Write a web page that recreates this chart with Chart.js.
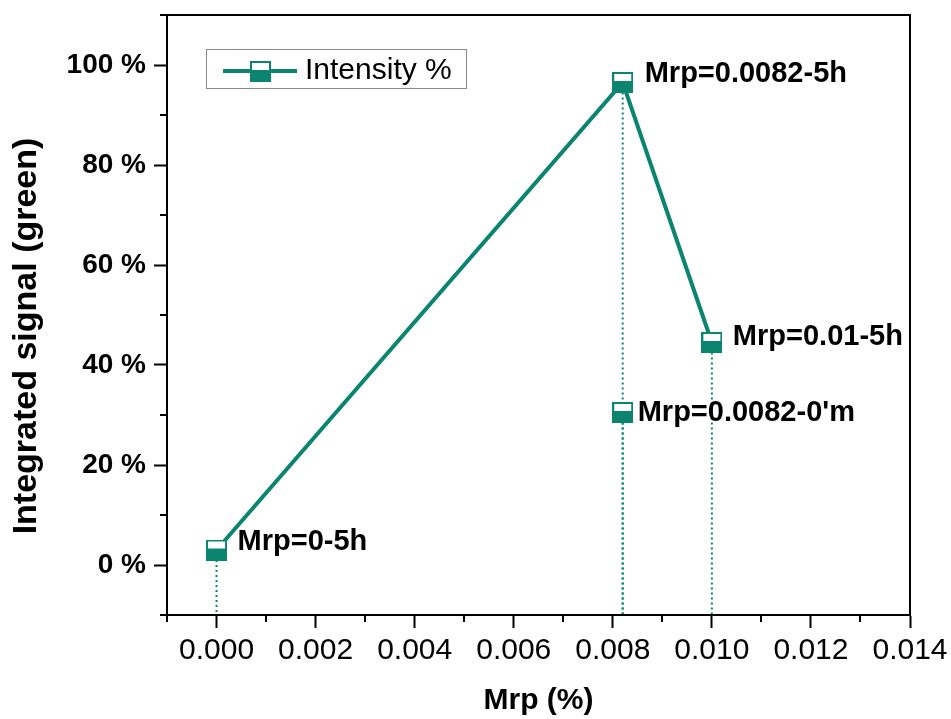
<!DOCTYPE html>
<html>
<head>
<meta charset="utf-8">
<script src="https://cdn.jsdelivr.net/npm/chart.js@4"></script>
<style>
  body { margin: 0; background: #fff; }
</style>
</head>
<body>
<canvas id="signalChart" width="951" height="719"></canvas>
<script>
// data
var mrp = [0, 0.0082, 0.01];
var intensity = [3, 96.5, 44.5];
var pointLabels = ['Mrp=0-5h', 'Mrp=0.0082-5h', 'Mrp=0.01-5h'];
var extraMrp = [0.0082];
var extraIntensity = [30.5];
var extraLabels = ["Mrp=0.0082-0'm"];
var xTicks = [0, 0.002, 0.004, 0.006, 0.008, 0.010, 0.012, 0.014];
var yTicks = [0, 20, 40, 60, 80, 100];
var xMinorTicks = [-0.001, 0.001, 0.003, 0.005, 0.007, 0.009, 0.011, 0.013];
var yMinorTicks = [-10, 10, 30, 50, 70, 90, 110];

var teal = '#0b8570';
var font = "'Liberation Sans', Arial, sans-serif";
// label offsets from the marker centre (dx, dy)
var labelOffsets = [[21, -8], [22, -9], [21, -6]];
var extraOffsets = [[15, 0]];

// half filled square marker
function makeMarker() {
  var c = document.createElement('canvas');
  c.width = 21; c.height = 21;
  var g = c.getContext('2d');
  g.fillStyle = teal;
  g.fillRect(0, 0, 21, 21);
  g.fillStyle = '#fff';
  g.fillRect(2, 2, 17, 7);
  return c;
}
var marker = makeMarker();

var dropLines = mrp.concat(extraMrp).map(function (x, i) {
  var y = i < mrp.length ? intensity[i] : extraIntensity[i - mrp.length];
  return {
    data: [{x: x, y: y}, {x: x, y: -10}],
    borderColor: teal,
    borderWidth: 2,
    borderDash: [2, 3],
    pointRadius: 0
  };
});

var extrasPlugin = {
  id: 'extras',
  afterDraw: function (chart) {
    var ctx = chart.ctx, a = chart.chartArea;
    var xs = chart.scales.x, ys = chart.scales.y;
    ctx.save();
    // frame top and right
    ctx.strokeStyle = '#000';
    ctx.lineWidth = 2;
    ctx.strokeRect(a.left, a.top, a.right - a.left, a.bottom - a.top);
    // minor ticks
    ctx.beginPath();
    xMinorTicks.forEach(function (v) {
      var px = Math.round(xs.getPixelForValue(v));
      ctx.moveTo(px, a.bottom); ctx.lineTo(px, a.bottom + 7);
    });
    yMinorTicks.forEach(function (v) {
      var py = Math.round(ys.getPixelForValue(v));
      ctx.moveTo(a.left, py); ctx.lineTo(a.left - 7, py);
    });
    ctx.stroke();

    // point labels
    ctx.fillStyle = '#000';
    ctx.font = 'bold 29px ' + font;
    ctx.textBaseline = 'middle';
    ctx.textAlign = 'left';
    chart.getDatasetMeta(0).data.forEach(function (el, i) {
      ctx.fillText(pointLabels[i], el.x + labelOffsets[i][0], el.y + labelOffsets[i][1]);
    });
    chart.getDatasetMeta(1).data.forEach(function (el, i) {
      ctx.fillText(extraLabels[i], el.x + extraOffsets[i][0], el.y + extraOffsets[i][1]);
    });

    // y title
    ctx.save();
    ctx.translate(27, 336);
    ctx.rotate(-Math.PI / 2);
    ctx.textAlign = 'center';
    ctx.font = 'bold 34px ' + font;
    ctx.fillText('Integrated signal (green)', 0, 0);
    ctx.restore();

    // legend
    var lx = a.left + 39, ly = a.top + 34;
    ctx.strokeStyle = '#8a8a8a';
    ctx.lineWidth = 1;
    ctx.strokeRect(lx + 0.5, ly + 0.5, 260, 39);
    ctx.strokeStyle = teal;
    ctx.lineWidth = 4;
    ctx.beginPath();
    ctx.moveTo(lx + 17, ly + 22); ctx.lineTo(lx + 91, ly + 22);
    ctx.stroke();
    ctx.drawImage(marker, lx + 44, ly + 12);
    ctx.fillStyle = '#000';
    ctx.font = '30px ' + font;
    ctx.fillText('Intensity %', lx + 99, ly + 22);
    ctx.restore();
  }
};

var signalChartContext = document.getElementById('signalChart').getContext('2d');
var signalChart = new Chart(signalChartContext, {
  type: 'line',
  data: {
    datasets: [{
      label: 'Intensity %',
      data: mrp.map(function (x, i) { return {x: x, y: intensity[i]}; }),
      borderColor: teal,
      borderWidth: 4,
      pointStyle: marker,
      pointRadius: 10
    }, {
      label: 'extra',
      data: extraMrp.map(function (x, i) { return {x: x, y: extraIntensity[i]}; }),
      showLine: false,
      pointStyle: marker,
      pointRadius: 10
    }].concat(dropLines)
  },
  options: {
    responsive: false,
    animation: false,
    layout: { padding: { top: 15, right: 41, left: 0, bottom: 0 } },
    plugins: {
      legend: { display: false },
      tooltip: { enabled: false }
    },
    scales: {
      x: {
        type: 'linear',
        min: -0.001,
        max: 0.014,
        ticks: {
          color: '#000',
          font: { family: font, size: 30 },
          padding: 5,
          maxRotation: 0,
          callback: function (v) { return v.toFixed(3); }
        },
        afterBuildTicks: function (scale) {
          scale.ticks = xTicks.map(function (v) { return {value: v}; });
        },
        afterFit: function (scale) {
          scale.height = 104;
          scale.paddingLeft = 0;
          scale.paddingRight = 0;
        },
        grid: { drawOnChartArea: false, tickLength: 13, tickColor: '#000', tickWidth: 2 },
        border: { color: '#000', width: 2 },
        title: {
          display: true,
          text: 'Mrp (%)',
          color: '#000',
          font: { family: font, size: 30, weight: 'bold' },
          padding: { top: 0, bottom: 0 }
        }
      },
      y: {
        min: -10,
        max: 110,
        ticks: {
          color: '#000',
          font: { family: font, size: 28, weight: 'bold' },
          padding: 8,
          callback: function (v) { return v + ' %'; }
        },
        afterBuildTicks: function (scale) {
          scale.ticks = yTicks.map(function (v) { return {value: v}; });
        },
        afterFit: function (scale) {
          scale.width = 167;
          scale.paddingTop = 0;
          scale.paddingBottom = 0;
        },
        grid: { drawOnChartArea: false, tickLength: 13, tickColor: '#000', tickWidth: 2 },
        border: { color: '#000', width: 2 }
      }
    }
  },
  plugins: [extrasPlugin]
});
</script>
</body>
</html>
